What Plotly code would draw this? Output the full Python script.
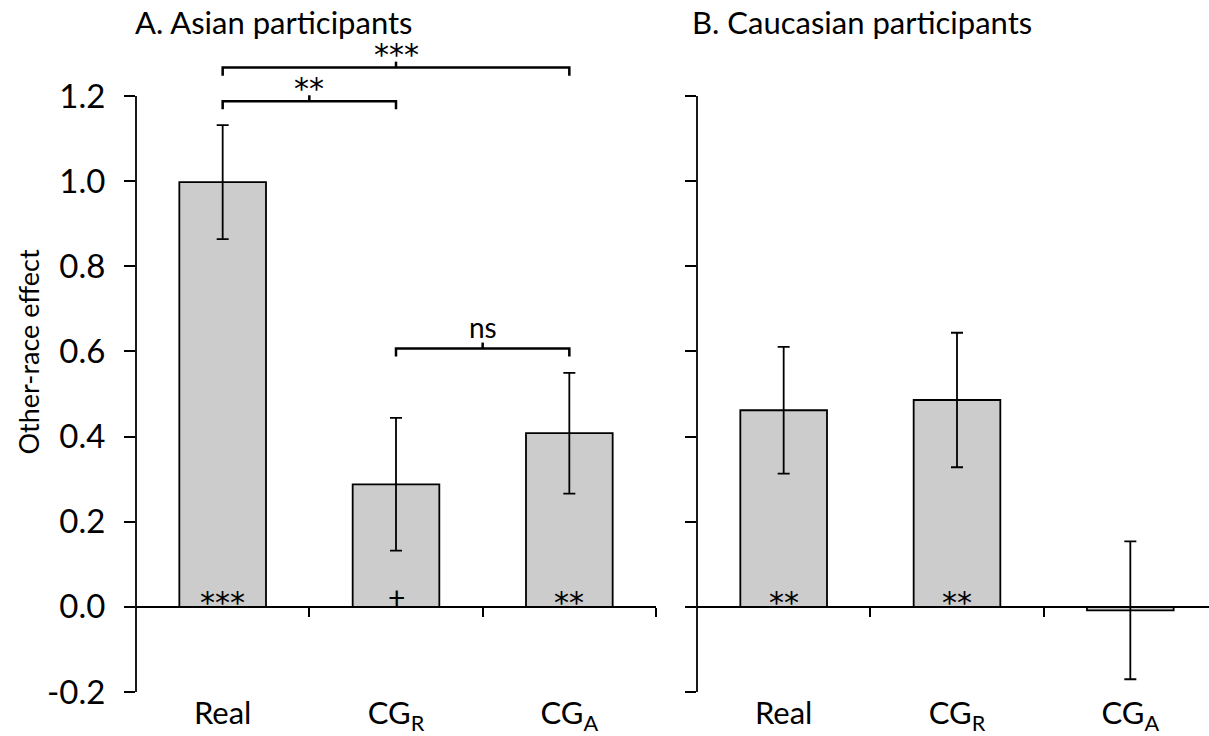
import plotly.graph_objects as go

# ---- data ----
categories = ["Real", "CG<sub>R</sub>", "CG<sub>A</sub>"]
asian_mean = [0.998, 0.288, 0.408]
asian_err = [0.134, 0.156, 0.142]
cauc_mean = [0.462, 0.486, -0.008]
cauc_err = [0.149, 0.158, 0.162]
asian_sig = ["***", "+", "**"]
cauc_sig = ["**", "**", ""]
comparisons = [(0, 1, "**"), (0, 2, "***"), (1, 2, "ns")]
y_tick_vals = [-0.2, 0.0, 0.2, 0.4, 0.6, 0.8, 1.0, 1.2]
y_tick_text = ["-0.2", "0.0", "0.2", "0.4", "0.6", "0.8", "1.0", "1.2"]
panel_titles = ["A. Asian participants", "B. Caucasian participants"]
y_title = "Other-race effect"

# ---- geometry ----
W, H = 1209, 736
ML, MR, MT, MB = 136, 0, 10, 37
PW = W - ML - MR
PX_PER_UNIT = 430.0
y_top = 1.2 + (97 - MT) / PX_PER_UNIT
y_range = [-0.2, y_top]
cat_px = 173.33
left_dom = [0, 520 / PW]
right_dom = [561 / PW, 1]
right_xmax = -0.5 + (PW - 561) / cat_px
zero_pos = (0 - y_range[0]) / (y_range[1] - y_range[0])

FONT = "Lato, Carlito, 'Open Sans', sans-serif"
STAR_FONT = "'DejaVu Sans', sans-serif"
x_pos = list(range(len(categories)))

fig = go.Figure()
for means, errs, xa, ya in [(asian_mean, asian_err, "x", "y"), (cauc_mean, cauc_err, "x2", "y2")]:
    fig.add_trace(go.Bar(
        x=x_pos, y=means, width=0.5, xaxis=xa, yaxis=ya,
        marker=dict(color="#cccccc", line=dict(color="black", width=1.8)),
        error_y=dict(type="data", array=errs, visible=True, color="black", thickness=1.8, width=6),
        showlegend=False, hoverinfo="skip",
    ))

common_zero = dict(showline=True, linecolor="black", linewidth=1.8, ticks="outside", ticklen=9,
                   tickwidth=1.8, tickcolor="black", tickvals=[0.5, 1.5, 2.5], showticklabels=False,
                   showgrid=False, zeroline=False, anchor="free", position=zero_pos)

fig.update_layout(
    width=W, height=H,
    margin=dict(l=ML, r=MR, t=MT, b=MB),
    paper_bgcolor="white", plot_bgcolor="white",
    font=dict(family=FONT, color="black"),
    bargap=0.5,
    xaxis=dict(domain=left_dom, range=[-0.5, 2.5], tickvals=x_pos, ticktext=categories,
               showline=False, ticks="", showgrid=False, zeroline=False,
               tickfont=dict(size=31), anchor="y"),
    xaxis2=dict(domain=right_dom, range=[-0.5, right_xmax], tickvals=x_pos, ticktext=categories,
                showline=False, ticks="", showgrid=False, zeroline=False,
                tickfont=dict(size=31), anchor="y2"),
    xaxis3=dict(overlaying="x", domain=left_dom, range=[-0.5, 2.5], **common_zero),
    xaxis4=dict(overlaying="x2", domain=right_dom, range=[-0.5, right_xmax], **common_zero),
    yaxis=dict(range=y_range, tickvals=y_tick_vals, ticktext=y_tick_text, showline=False,
               ticks="outside", ticklen=11, tickwidth=1.8, tickcolor="black",
               showgrid=False, zeroline=False, tickfont=dict(size=33), anchor="x",
               ticklabelstandoff=12),
    yaxis2=dict(range=y_range, tickvals=y_tick_vals, showticklabels=False, showline=False,
                ticks="outside", ticklen=11, tickwidth=1.8, tickcolor="black",
                showgrid=False, zeroline=False, anchor="x2"),
)
fig.add_trace(go.Scatter(x=[None], y=[None], xaxis="x3", yaxis="y", showlegend=False, hoverinfo="skip"))
fig.add_trace(go.Scatter(x=[None], y=[None], xaxis="x4", yaxis="y2", showlegend=False, hoverinfo="skip"))

shapes = []
for xr, yr, dom in [("paper", "y", left_dom[0]), ("paper", "y2", right_dom[0])]:
    shapes.append(dict(type="line", xref=xr, yref=yr, x0=dom, x1=dom, y0=-0.2, y1=1.2,
                       line=dict(color="black", width=1.8)))

bracket_levels = {(0, 1): 1.188, (0, 2): 1.267, (1, 2): 0.607}
leg = 0.019
nub = 0.014
annotations = []
for a, b, lab in comparisons:
    lvl = bracket_levels[(a, b)]
    mid = (a + b) / 2
    shapes.append(dict(type="path", xref="x", yref="y",
                       path=f"M {a},{lvl-leg} L {a},{lvl} L {b},{lvl} L {b},{lvl-leg}",
                       line=dict(color="black", width=2.5)))
    shapes.append(dict(type="line", xref="x", yref="y", x0=mid, x1=mid, y0=lvl, y1=lvl + nub,
                       line=dict(color="black", width=2.5)))
    if lab == "ns":
        annotations.append(dict(x=mid, y=lvl, xref="x", yref="y", text=lab, showarrow=False,
                                yanchor="middle", yshift=22, font=dict(size=28)))
    else:
        annotations.append(dict(x=mid, y=lvl, xref="x", yref="y", text=lab, showarrow=False,
                                yanchor="middle", yshift=13, font=dict(size=30, family=STAR_FONT)))

for sigs, xr, yr in [(asian_sig, "x", "y"), (cauc_sig, "x2", "y2")]:
    for i, s in enumerate(sigs):
        if not s:
            continue
        if s == "+":
            annotations.append(dict(x=i, y=0, xref=xr, yref=yr, text=s, showarrow=False,
                                    yanchor="middle", yshift=10, font=dict(size=30)))
        else:
            annotations.append(dict(x=i, y=0, xref=xr, yref=yr, text=s, showarrow=False,
                                    yanchor="middle", yshift=4, font=dict(size=30, family=STAR_FONT)))

annotations.append(dict(x=left_dom[0], xref="paper", y=1, yref="paper", yanchor="middle",
                        yshift=-(22 - MT), text=panel_titles[0], showarrow=False,
                        xanchor="left", xshift=-3, font=dict(size=31)))
annotations.append(dict(x=right_dom[0], xref="paper", y=1, yref="paper", yanchor="middle",
                        yshift=-(22 - MT), text=panel_titles[1], showarrow=False,
                        xanchor="left", xshift=-7, font=dict(size=31)))
annotations.append(dict(x=0, xref="paper", xshift=-(ML - 28), y=0.6, yref="y", text=y_title,
                        textangle=-90, showarrow=False, xanchor="center", yanchor="middle",
                        font=dict(size=27)))

fig.update_layout(shapes=shapes, annotations=annotations)
fig.write_html("out.html", config={"displayModeBar": False},
               post_script="document.body.style.margin='0';document.body.style.overflow='hidden';")
